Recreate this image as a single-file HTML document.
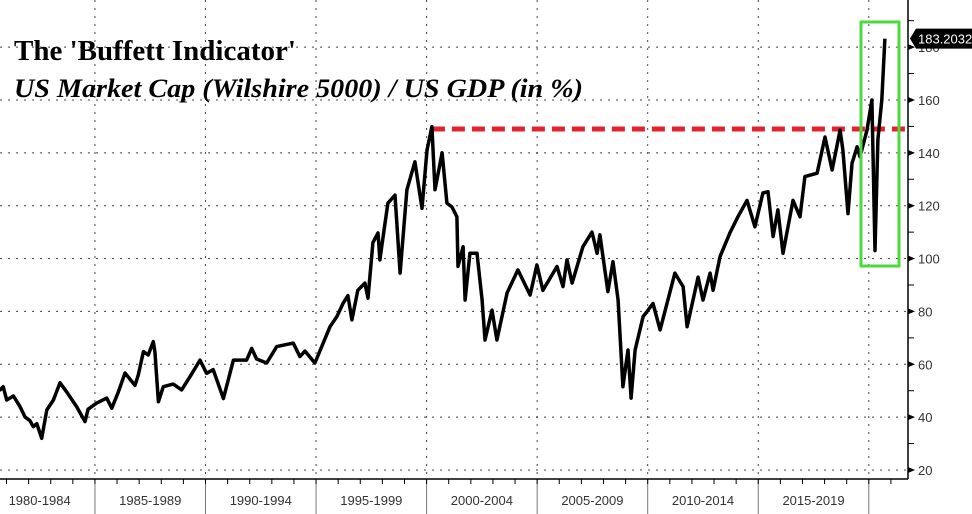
<!DOCTYPE html>
<html><head><meta charset="utf-8"><style>
body{margin:0;background:#fff;width:972px;height:514px;overflow:hidden}
svg{display:block}
</style></head><body>
<svg id="chart" width="972" height="514" xmlns="http://www.w3.org/2000/svg">
<g id="grid"></g><g id="axes"></g><g id="marks"></g>
<text x="14" y="60" font-family="Liberation Serif, serif" font-weight="bold" font-size="29" fill="#000">The 'Buffett Indicator'</text>
<text x="14" y="97" font-family="Liberation Serif, serif" font-weight="bold" font-style="italic" font-size="21" textLength="569" lengthAdjust="spacingAndGlyphs" fill="#000" style="font-size:26px">US Market Cap (Wilshire 5000) / US GDP (in %)</text>
</svg>
<script>
const years=[1980.0,1980.71,1980.85,1981.01,1981.31,1981.61,1981.84,1982.06,1982.21,1982.37,1982.59,1982.82,1983.12,1983.42,1983.72,1984.17,1984.55,1984.69,1985.08,1985.53,1985.76,1986.06,1986.36,1986.81,1986.96,1987.19,1987.41,1987.64,1987.71,1987.87,1988.09,1988.54,1988.92,1989.30,1989.75,1990.05,1990.35,1990.81,1991.26,1991.86,1992.09,1992.31,1992.77,1993.22,1993.97,1994.27,1994.50,1994.95,1995.63,1995.94,1996.22,1996.44,1996.62,1996.89,1997.21,1997.35,1997.57,1997.80,1997.89,1998.03,1998.25,1998.57,1998.80,1999.11,1999.47,1999.79,2000.02,2000.24,2000.38,2000.70,2000.92,2001.15,2001.37,2001.42,2001.65,2001.74,2001.96,2002.28,2002.51,2002.64,2002.96,2003.18,2003.64,2004.13,2004.68,2004.99,2005.26,2005.90,2006.17,2006.35,2006.58,2007.07,2007.48,2007.71,2007.84,2008.20,2008.43,2008.66,2008.88,2009.11,2009.25,2009.43,2009.79,2010.24,2010.56,2011.23,2011.60,2011.78,2012.28,2012.50,2012.82,2012.96,2013.27,2013.72,2014.08,2014.49,2014.85,2015.21,2015.44,2015.67,2015.89,2016.12,2016.57,2016.89,2017.11,2017.66,2018.02,2018.34,2018.70,2018.83,2019.06,2019.24,2019.47,2019.60,2019.92,2020.14,2020.28,2020.41,2020.59,2020.73];
const values=[50,50.3,51.5,46.5,48,44,40,38.7,36.4,37.5,32,42.7,46.5,53,49.6,44,38.3,43,45.3,47.2,43.4,49.6,56.7,52,56,64.8,63.5,68.6,64.8,45.8,51.5,52.5,50.3,55.3,61.6,56.6,58,47,61.6,61.6,66,62,60.5,66.7,68,62.9,65,60.5,74.2,78,83,86,76.8,88,90.7,85,106,109.7,99.5,108,121,124,94.5,126,136.6,119,141,149.9,126,140,121,119.5,115.8,97,104.5,84.3,102,102,84.3,69.2,80.5,69.2,87,95.7,86.2,97.6,88,97,89.4,99.5,90.7,104.5,110,102,109,87.5,98.8,84.3,51.5,65.4,47.2,65.4,78,83,73,94.5,89.4,74.2,93,84.3,94.5,88,100.7,109.7,115.8,122,112,124.8,125.3,108.3,118.4,102,122,115.8,131,132.3,146,133.5,148.6,141,117,136,142.3,138.5,148.6,160,103,145,160,183.2];
const yTicks=[20,40,60,80,100,120,140,160,180];
const periodLabels=["1980-1984","1985-1989","1990-1994","1995-1999","2000-2004","2005-2009","2010-2014","2015-2019"];
const lastValue=183.2032;
const refLevel=149;

const NS="http://www.w3.org/2000/svg";
const X=y=>-15.6+(y-1980)*22.11;
const Y=v=>470-(v-20)*2.643;
const PR=908, PB=479;
function mk(tag,attrs,parent){const e=document.createElementNS(NS,tag);for(const k in attrs)e.setAttribute(k,attrs[k]);parent.appendChild(e);return e;}
const grid=document.getElementById('grid'),axes=document.getElementById('axes'),marks=document.getElementById('marks');

yTicks.forEach(t=>{
  const l=mk('line',{x1:0,x2:PR,y1:Y(t),y2:Y(t),stroke:'#444','stroke-width':1,'stroke-dasharray':'2,6'},grid);
  
  
  const tk=mk('path',{d:`M${PR} ${Y(t)-3}L${PR+7} ${Y(t)}L${PR} ${Y(t)+3}Z`,fill:'#000'},axes);
  
  
  const tx=mk('text',{x:PR+10,y:Y(t)+5,'font-family':'Liberation Sans, sans-serif','font-size':13,fill:'#333'},axes);
  tx.textContent=t;
  
  
  mk('line',{x1:PR,x2:PR+6,y1:Y(t+10),y2:Y(t+10),stroke:'#000'},axes);
});
for(let yr=1985;yr<=2020;yr+=5){
  const x=X(yr);
  const l=mk('line',{x1:x,x2:x,y1:0,y2:PB,stroke:'#444','stroke-width':1,'stroke-dasharray':'2,6'},grid);
  
  
  mk('line',{x1:x,x2:x,y1:PB,y2:514,stroke:'#777'},axes);
}
for(let yr=1980;yr<=2021;yr++){const x=X(yr);if(x>0&&x<PR)mk('line',{x1:x,x2:x,y1:PB,y2:PB+5,stroke:'#000'},axes);}
periodLabels.forEach((p,i)=>{
  const tx=mk('text',{x:X(1982.5+5*i),y:505,'text-anchor':'middle','font-family':'Liberation Sans, sans-serif','font-size':13,fill:'#333'},axes);
  tx.textContent=p;
  
  
});
const xa=mk('line',{x1:0,x2:PR,y1:PB,y2:PB,stroke:'#000','stroke-width':1.5},axes);


const ya=mk('line',{x1:PR,x2:PR,y1:0,y2:PB,stroke:'#000','stroke-width':1.5},axes);



const ref=mk('line',{x1:X(2000.24),x2:905,y1:Y(refLevel),y2:Y(refLevel),stroke:'#e0242e','stroke-width':5,'stroke-dasharray':'13,7'},marks);



const d=years.map((y,i)=>(i?'L':'M')+X(y).toFixed(1)+' '+Y(values[i]).toFixed(1)).join('');
const ln=mk('path',{d:d,fill:'none',stroke:'#000','stroke-width':3.5,'stroke-linejoin':'round'},marks);



const box=mk('rect',{x:861,y:22,width:38,height:244,fill:'none',stroke:'#4cd93c','stroke-width':3},marks);



const ly=Y(lastValue);
const lb=mk('path',{d:`M910 ${ly}L916 ${ly-10}H972V${ly+10}H916Z`,fill:'#000'},marks);


const lt=mk('text',{x:918,y:ly+5,'font-family':'Liberation Sans, sans-serif','font-size':13,fill:'#fff'},marks);
lt.textContent=lastValue.toFixed(4);


</script>
</body></html>
